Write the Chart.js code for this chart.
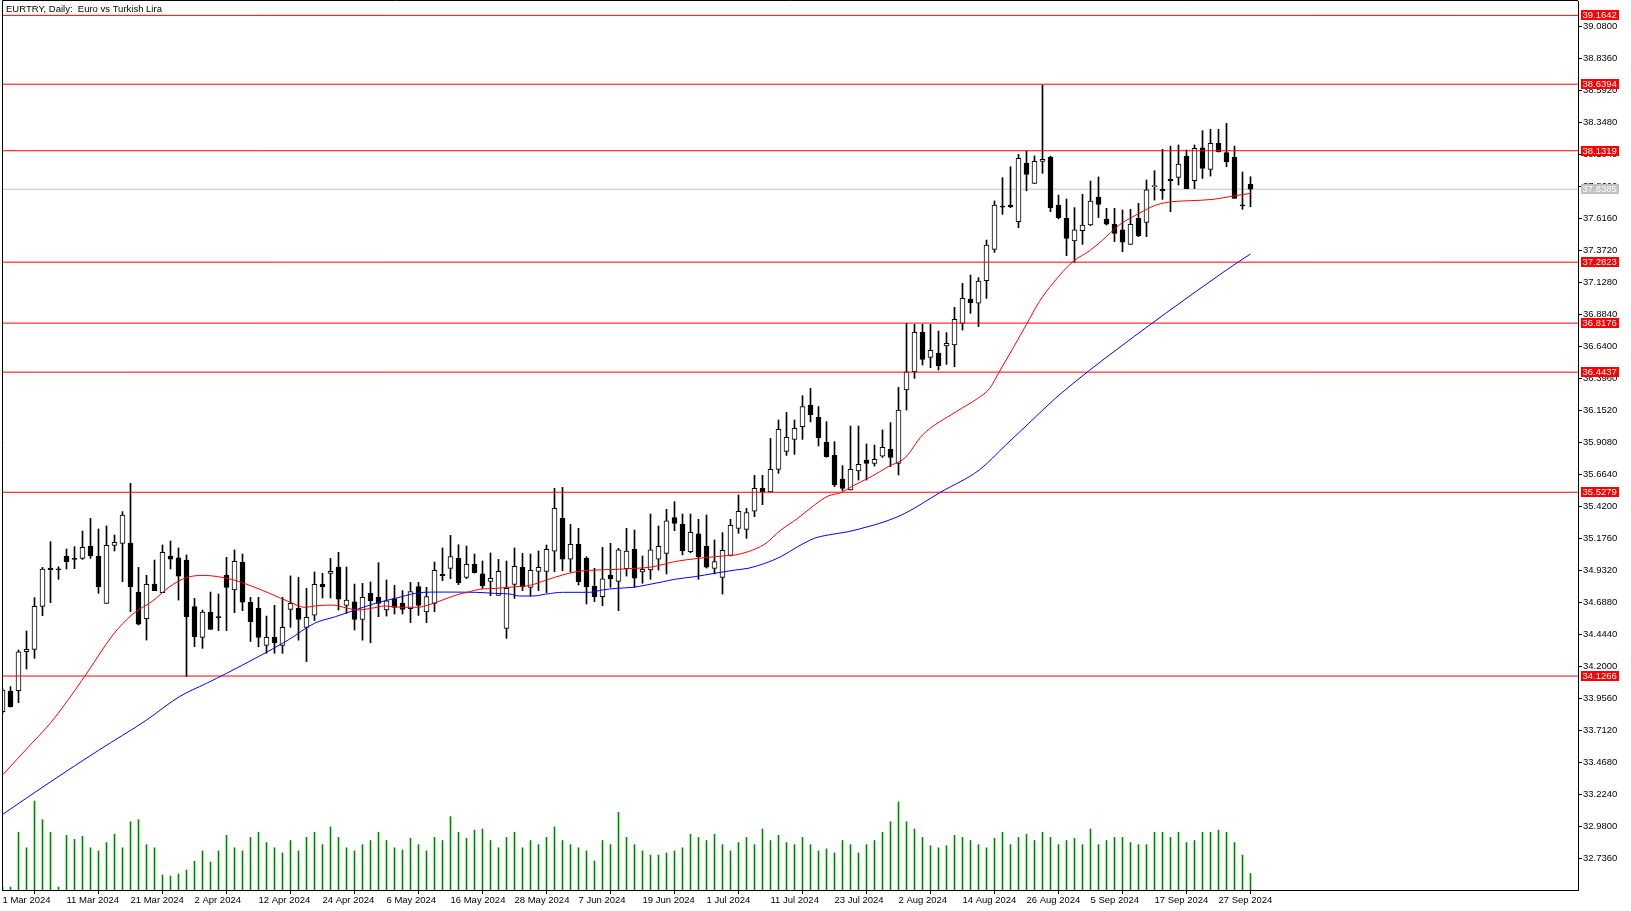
<!DOCTYPE html>
<html><head><meta charset="utf-8">
<script src="https://cdn.jsdelivr.net/npm/chart.js@4.4.1/dist/chart.umd.min.js"></script>
<style>html,body{margin:0;padding:0;background:#fff;overflow:hidden}#wrap{position:relative;width:1631px;height:911px}</style>
</head><body><div id="wrap"><canvas id="c" width="1631" height="911"></canvas></div>
<script>
const chartTitle = 'EURTRY, Daily:  Euro vs Turkish Lira';
const dateLabels = ['1 Mar 2024','11 Mar 2024','21 Mar 2024','2 Apr 2024','12 Apr 2024','24 Apr 2024','6 May 2024','16 May 2024','28 May 2024','7 Jun 2024','19 Jun 2024','1 Jul 2024','11 Jul 2024','23 Jul 2024','2 Aug 2024','14 Aug 2024','26 Aug 2024','5 Sep 2024','17 Sep 2024','27 Sep 2024'];
const labelEvery = 8;
const priceTicks = [39.080,38.836,38.592,38.348,38.104,37.860,37.616,37.372,37.128,36.884,36.640,36.396,36.152,35.908,35.664,35.420,35.176,34.932,34.688,34.444,34.200,33.956,33.712,33.468,33.224,32.980,32.736];
const levels = [39.1642,38.6394,38.1319,37.2823,36.8176,36.4437,35.5279,34.1266];
const lastPrice = 37.8385;

const opens = [33.855,34.012,34.015,34.312,34.330,34.658,34.949,34.945,35.042,35.024,35.024,35.118,35.042,34.681,35.123,35.138,35.141,34.767,34.564,34.828,34.762,35.042,35.027,35.011,34.656,34.422,34.615,34.580,34.895,34.783,34.996,34.689,34.643,34.360,34.422,34.360,34.635,34.643,34.498,34.590,34.826,34.910,34.958,34.666,34.693,34.559,34.757,34.727,34.630,34.717,34.681,34.640,34.808,34.615,34.681,34.902,34.948,35.024,34.879,34.978,34.905,34.849,34.742,34.490,34.826,34.955,34.803,34.925,34.925,35.078,35.329,35.017,35.131,35.024,34.813,34.732,34.897,34.849,34.945,35.093,34.920,34.935,35.017,35.062,35.334,35.286,35.075,35.210,35.118,34.948,34.879,35.047,35.253,35.245,35.383,35.558,35.530,35.703,35.840,35.931,36.028,36.193,36.099,35.911,35.809,35.629,35.545,35.690,35.774,35.748,35.804,35.855,35.748,36.308,36.447,36.747,36.557,36.590,36.643,36.651,36.816,37.000,36.969,37.141,37.380,37.710,37.718,37.591,38.036,37.883,38.051,38.084,37.718,37.617,37.444,37.523,37.566,37.779,37.611,37.571,37.528,37.418,37.617,37.586,37.858,37.838,37.914,37.929,38.092,37.904,38.155,37.990,38.188,38.117,38.082,37.718,37.876];
const highs = [34.030,34.046,34.325,34.470,34.724,34.955,35.151,34.960,35.095,35.113,35.232,35.329,35.248,35.271,35.202,35.380,35.596,34.955,34.895,35.011,35.126,35.156,35.103,35.050,34.719,34.630,34.767,34.752,35.032,35.088,35.057,34.727,34.727,34.584,34.666,34.727,34.890,34.879,34.795,34.920,34.910,35.024,35.070,34.958,34.828,34.833,34.844,34.991,34.859,34.818,34.778,34.841,34.841,34.803,34.996,35.103,35.199,35.128,35.118,35.057,35.004,35.065,35.016,35.004,35.103,35.062,35.057,35.080,35.126,35.558,35.565,35.283,35.253,35.037,34.948,35.108,35.139,35.100,35.253,35.240,35.042,35.362,35.271,35.398,35.456,35.362,35.362,35.322,35.355,35.164,35.220,35.322,35.507,35.405,35.657,35.657,35.939,36.079,36.137,36.079,36.264,36.320,36.181,36.066,35.914,35.731,36.033,36.033,35.896,35.888,36.003,36.059,36.328,36.816,36.808,36.808,36.808,36.757,36.745,36.938,37.121,37.184,37.164,37.451,37.749,37.927,38.010,38.104,38.130,38.092,38.633,38.090,37.794,37.764,37.698,37.800,37.901,37.932,37.693,37.693,37.680,37.685,37.731,37.909,37.980,38.143,38.168,38.176,38.138,38.176,38.285,38.295,38.295,38.341,38.168,37.970,37.934];
const lows = [33.840,33.890,33.924,34.180,34.262,34.587,34.686,34.864,34.943,34.945,35.016,35.024,34.757,34.681,35.080,34.846,34.617,34.516,34.401,34.778,34.762,34.943,34.706,34.122,34.351,34.338,34.483,34.473,34.473,34.610,34.625,34.390,34.350,34.300,34.300,34.300,34.498,34.400,34.237,34.550,34.722,34.722,34.630,34.605,34.478,34.400,34.380,34.579,34.584,34.600,34.600,34.534,34.589,34.534,34.617,34.854,34.869,34.823,34.869,34.912,34.795,34.739,34.742,34.414,34.719,34.778,34.737,34.778,34.762,34.922,34.930,34.920,34.821,34.676,34.694,34.663,34.803,34.625,34.889,34.803,34.834,34.864,34.935,34.905,35.235,35.050,35.067,34.864,34.950,34.905,34.752,35.042,35.215,35.177,35.342,35.433,35.530,35.672,35.809,35.817,35.931,36.064,35.881,35.795,35.571,35.540,35.545,35.621,35.621,35.728,35.794,35.723,35.660,36.155,36.397,36.498,36.478,36.460,36.503,36.485,36.765,36.892,36.791,37.006,37.357,37.647,37.698,37.545,37.827,37.883,37.960,37.667,37.612,37.332,37.281,37.418,37.560,37.622,37.566,37.439,37.362,37.418,37.477,37.477,37.756,37.761,37.667,37.871,37.843,37.843,37.921,37.939,38.122,38.010,37.769,37.685,37.705];
const closes = [34.020,33.893,34.312,34.330,34.658,34.943,34.938,34.937,34.999,35.016,35.108,35.044,34.808,35.123,35.146,35.354,34.808,34.523,34.826,34.778,35.070,35.017,34.889,34.579,34.427,34.615,34.483,34.572,34.803,35.001,34.689,34.541,34.422,34.422,34.380,34.498,34.681,34.559,34.574,34.826,34.808,34.925,34.712,34.706,34.559,34.727,34.701,34.681,34.701,34.650,34.635,34.770,34.666,34.732,34.933,34.892,35.037,34.839,34.978,34.915,34.813,34.872,34.925,34.795,34.963,34.808,34.933,34.955,35.093,35.405,35.017,35.131,34.846,34.808,34.732,34.867,34.869,35.088,35.080,34.872,34.940,35.088,35.116,35.311,35.291,35.083,35.222,35.037,34.956,34.999,35.085,35.276,35.383,35.373,35.558,35.530,35.703,36.008,35.947,36.015,36.181,36.120,35.944,35.799,35.583,35.558,35.703,35.741,35.748,35.779,35.871,35.794,36.155,36.447,36.747,36.541,36.610,36.491,36.663,36.846,37.007,36.974,37.139,37.413,37.718,37.702,37.703,38.074,37.952,38.051,38.066,37.698,37.622,37.464,37.528,37.566,37.749,37.723,37.573,37.502,37.434,37.571,37.484,37.833,37.866,37.825,37.901,38.031,37.843,38.150,37.998,38.188,38.125,38.049,37.769,37.712,37.8385];
const volumes = [300,300,5780,4220,8900,7030,5780,300,5470,5060,5370,4220,3910,4740,5580,4220,6820,7030,4540,4220,1500,1400,1600,2000,2870,3910,2800,3910,5470,4220,3910,5260,5780,4740,4220,3700,4950,3910,5260,5780,4540,6300,5260,4220,3910,4540,4950,5780,4950,4220,4000,5160,4540,3910,5260,4950,7340,5780,5160,5990,6100,4950,4220,5260,5780,4220,4950,4540,5260,6300,4950,4540,4220,3910,2900,4950,4540,7760,5260,4540,3910,3500,3500,3700,3910,4220,5580,5260,4950,5580,4540,3910,4740,5260,4540,6100,4950,5470,4740,4540,5260,4540,3910,4120,3700,4950,4540,3700,4540,4950,5780,6820,8800,6820,6100,5260,4430,4220,4430,5470,5260,4950,4540,4220,5160,5780,4540,5260,5580,4950,5780,5260,4540,4950,5160,4540,6100,4540,4950,5260,5260,4740,4540,4540,5780,5780,5260,5780,4740,4950,5780,5780,5990,5780,4740,3500,1650];

const maRedX = [0,3,6.3,10.25,13.8,16.3,18.8,20.9,23,25.1,28.6,31.1,33.2,36.1,37.8,39,41.1,43.2,44.4,46.1,47.8,49.8,52,53.2,55,56.7,58.4,59.6,61.7,64.2,65.9,68,70,71.7,74.2,76.7,79.2,81,82.8,84,87,90,91.6,93.2,95.3,97.3,99.4,101.5,103.2,104.8,106.5,108.6,110.7,112.8,115,119.2,121.9,123.4,124.6,126.3,128,129.6,131.3,133.8,135.9,137.5,139.6,142.1,144.2,146.3,148.4,151.3,153.4,156];
const maRedY = [33.372,33.57,33.791,34.122,34.44,34.60,34.70,34.808,34.877,34.894,34.864,34.813,34.762,34.686,34.650,34.661,34.668,34.643,34.630,34.643,34.661,34.651,34.651,34.668,34.706,34.744,34.770,34.788,34.795,34.808,34.818,34.859,34.897,34.922,34.935,34.940,34.948,34.957,34.981,34.999,35.024,35.042,35.050,35.075,35.133,35.240,35.329,35.431,35.499,35.525,35.583,35.647,35.723,35.790,35.964,36.142,36.244,36.320,36.447,36.625,36.808,36.981,37.121,37.286,37.370,37.450,37.566,37.655,37.718,37.744,37.751,37.761,37.782,37.807];
const maBlueX = [0,6,12,18,22.1,25.5,28,35.7,39,41.6,44.1,46.6,49.1,51.6,53.7,59.2,61.5,63.4,64.6,66.3,68,70,73.4,75,76.7,78.8,80.5,82.6,84,86.5,89,91.6,93.2,95.3,97.3,99.4,101.5,103.2,105.7,108.2,110.3,112.8,117.3,122.1,125.4,128.3,131.6,134.1,137.7,153,156];
const maBlueY = [33.071,33.32,33.56,33.791,33.969,34.071,34.147,34.401,34.529,34.579,34.630,34.681,34.719,34.757,34.767,34.765,34.757,34.752,34.737,34.737,34.752,34.765,34.765,34.783,34.795,34.803,34.821,34.846,34.864,34.884,34.910,34.935,34.948,34.986,35.037,35.113,35.177,35.202,35.227,35.266,35.304,35.367,35.530,35.698,35.888,36.054,36.244,36.371,36.544,37.223,37.345];

const FONT = "'Liberation Sans', Arial, sans-serif";
Chart.defaults.font.family = FONT;
Chart.defaults.font.size = 9.5;
Chart.defaults.color = '#000';
Chart.defaults.animation = false;

const xMin = -0.0625, xMax = xMin + 1576 / 8;
const yMax = 39.2737, yMin = 32.4952;

const idx = opens.map((_, i) => i);
const wickData = idx.map(i => ({x: i, y: [lows[i], highs[i]]}));
const bodyData = idx.map(i => ({x: i, y: [opens[i], closes[i]]}));
const volData = idx.map(i => ({x: i, y: volumes[i]}));
const redData = maRedX.map((x, k) => ({x, y: maRedY[k]}));
const blueData = maBlueX.map((x, k) => ({x, y: maBlueY[k]}));

const levelSets = levels.map(v => ({
  type: 'line', data: [{x: xMin, y: v}, {x: xMax, y: v}], borderColor: '#ff0000', borderWidth: 1,
  pointRadius: 0, order: 1, yAxisID: 'y'
}));
levelSets.push({type: 'line', data: [{x: xMin, y: lastPrice}, {x: xMax, y: lastPrice}], borderColor: '#c0c0c0', borderWidth: 1, pointRadius: 0, order: 5, yAxisID: 'y'});

const zeroPad = s => { s.paddingTop = 0; s.paddingBottom = 0; s.paddingLeft = 0; s.paddingRight = 0; };

const framePlugin = {
  id: 'frame',
  afterDraw(chart) {
    const {ctx, chartArea: a, scales} = chart;
    ctx.save();
    ctx.strokeStyle = '#000'; ctx.lineWidth = 1;
    ctx.beginPath();
    ctx.moveTo(a.left + 0.5, a.bottom); ctx.lineTo(a.left + 0.5, a.top - 0.5); ctx.lineTo(a.right, a.top - 0.5);
    ctx.stroke();
    ctx.font = '9.5px ' + FONT; ctx.textBaseline = 'middle'; ctx.textAlign = 'left';
    ctx.fillStyle = '#000';
    ctx.fillText(chartTitle, a.left + 4, a.top + 8);
    const ys = scales.y;
    const box = (v, bg) => {
      const y = Math.round(ys.getPixelForValue(v));
      const t = v.toFixed(4);
      const w = Math.ceil(ctx.measureText(t).width) + 3;
      ctx.fillStyle = bg; ctx.fillRect(a.right + 3, y - 5, w, 10);
      ctx.fillStyle = '#fff'; ctx.fillText(t, a.right + 4.5, y + 0.5);
    };
    box(lastPrice, '#c0c0c0');
    levels.forEach(v => box(v, '#ff0000'));
    ctx.restore();
  }
};

new Chart(document.getElementById('c'), {
  type: 'bar',
  data: {
    datasets: [
      {type: 'line', label: 'MA fast', data: redData, borderColor: '#ff0000', borderWidth: 1, pointRadius: 0, cubicInterpolationMode: 'monotone', order: 0, yAxisID: 'y'},
      {type: 'line', label: 'MA slow', data: blueData, borderColor: '#0000ff', borderWidth: 1, pointRadius: 0, cubicInterpolationMode: 'monotone', order: 0, yAxisID: 'y'},
      ...levelSets,
      {type: 'bar', label: 'body', data: bodyData, grouped: false, barThickness: 5, minBarLength: 1, borderWidth: 1, borderSkipped: false, borderColor: '#000',
        backgroundColor: c => (closes[c.dataIndex] >= opens[c.dataIndex] ? '#ffffff' : '#000000'), order: 2, yAxisID: 'y'},
      {type: 'bar', label: 'wick', data: wickData, grouped: false, barThickness: 1, borderWidth: 0, backgroundColor: '#000', order: 3, yAxisID: 'y'},
      {type: 'bar', label: 'volume', data: volData, grouped: false, barThickness: 1, borderWidth: 0, backgroundColor: '#008c00', order: 6, yAxisID: 'yv'}
    ]
  },
  options: {
    responsive: false, maintainAspectRatio: false, animation: false,
    layout: {padding: {left: 2, top: 1, right: 0, bottom: 0}},
    plugins: {legend: {display: false}, tooltip: {enabled: false}, title: {display: false}},
    scales: {
      x: {type: 'linear', min: xMin, max: xMax, offset: false, position: 'bottom',
        afterFit: s => { s.height = 21; zeroPad(s); },
        afterBuildTicks: s => { s.ticks = dateLabels.map((l, k) => ({value: k * labelEvery})); },
        ticks: {autoSkip: false, maxRotation: 0, minRotation: 0, align: 'start', padding: 1, color: '#000',
          callback: v => dateLabels[Math.round(v / labelEvery)] || ''},
        grid: {drawOnChartArea: false, drawTicks: true, tickLength: 4, color: '#000'},
        border: {display: true, color: '#000', width: 1}
      },
      y: {type: 'linear', position: 'right', min: yMin, max: yMax,
        afterFit: s => { s.width = 53; zeroPad(s); },
        afterBuildTicks: s => { s.ticks = priceTicks.map(v => ({value: v})); },
        ticks: {autoSkip: false, padding: 1, color: '#000', callback: v => Number(v).toFixed(4)},
        grid: {drawOnChartArea: false, drawTicks: true, tickLength: 4, color: '#000'},
        border: {display: true, color: '#000', width: 1}
      },
      yv: {type: 'linear', display: false, min: 0, max: 88900}
    }
  },
  plugins: [framePlugin]
});
</script></body></html>
